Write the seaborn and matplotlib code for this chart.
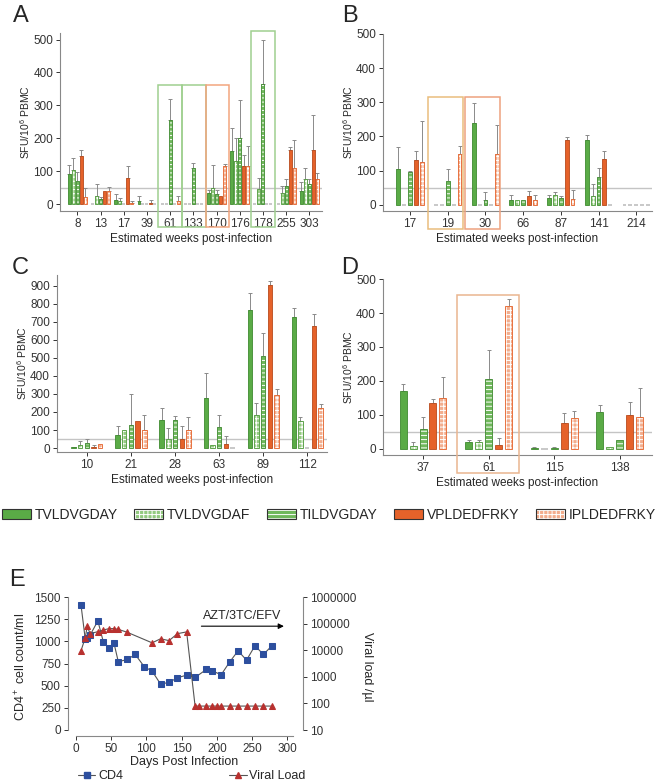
import numpy as np
import pandas as pd
import seaborn as sns
import matplotlib.pyplot as plt
from matplotlib.patches import Patch, Rectangle
from matplotlib.lines import Line2D
from matplotlib.colors import to_rgba

peptides = ["TVLDVGDAY", "TVLDVGDAF", "TILDVGDAY", "VPLDEDFRKY", "IPLDEDFRKY"]

# panel A (rows = weeks, columns = peptides)
weeks_a = ["8", "13", "17", "39", "61", "133", "170", "176", "178", "255", "303"]
mean_a = [[90, 105, 70, 145, 20], [0, 25, 15, 40, 40], [13, 8, 0, 80, 4],
          [10, 0, 0, 4, 0], [0, 0, 255, 0, 10], [0, 0, 110, 0, 0],
          [35, 50, 30, 25, 115], [160, 130, 200, 115, 115], [0, 45, 365, 0, 0],
          [0, 35, 55, 165, 110], [40, 75, 60, 165, 75]]
top_a = [[120, 140, 98, 165, 48], [0, 60, 22, 40, 52], [30, 18, 0, 117, 8],
         [24, 0, 0, 12, 0], [0, 0, 320, 0, 24], [0, 0, 125, 0, 0],
         [42, 120, 42, 25, 122], [230, 200, 315, 150, 178], [0, 80, 500, 0, 0],
         [0, 55, 75, 172, 195], [68, 110, 75, 272, 95]]

# panel B
weeks_b = ["17", "19", "30", "66", "87", "141", "214"]
mean_b = [[105, 0, 95, 130, 125], [0, 0, 70, 0, 150], [240, 0, 15, 0, 150],
          [15, 15, 15, 25, 13], [20, 30, 20, 190, 17], [190, 25, 80, 135, 0],
          [0, 0, 0, 0, 0]]
top_b = [[168, 0, 100, 158, 245], [0, 0, 105, 0, 172], [297, 0, 37, 0, 235],
         [28, 15, 15, 40, 30], [28, 37, 27, 197, 42], [203, 60, 108, 157, 0],
         [0, 0, 0, 0, 0]]

# panel C
weeks_c = ["10", "21", "28", "63", "89", "112"]
mean_c = [[3, 18, 30, 8, 25], [70, 100, 130, 150, 100], [155, 50, 155, 50, 100],
          [275, 15, 115, 25, 0], [765, 185, 510, 905, 295], [730, 150, 0, 680, 220]]
top_c = [[5, 40, 50, 18, 25], [125, 100, 300, 150, 185], [220, 110, 175, 120, 170],
         [415, 15, 185, 65, 0], [860, 250, 640, 930, 330], [780, 170, 0, 745, 242]]

# panel D
weeks_d = ["37", "61", "115", "138"]
mean_d = [[170, 10, 60, 135, 150], [20, 20, 205, 13, 420], [3, 0, 3, 75, 90],
          [110, 5, 25, 100, 95]]
top_d = [[192, 20, 95, 148, 213], [27, 27, 290, 32, 440], [6, 0, 6, 105, 112],
         [130, 5, 25, 137, 180]]

# panel E
days_cd4 = [7, 13, 16, 20, 31, 39, 47, 54, 60, 73, 84, 97, 108, 120, 132, 144, 157,
            169, 185, 193, 206, 218, 230, 242, 254, 266, 278]
cd4 = [1415, 1032, 1043, 1070, 1231, 987, 920, 976, 770, 796, 852, 713, 664, 518,
       537, 589, 619, 593, 683, 668, 623, 766, 893, 788, 950, 852, 950]
days_vl = [7, 13, 16, 20, 31, 39, 47, 54, 60, 73, 108, 120, 132, 144, 157, 169, 175,
           185, 193, 200, 206, 218, 230, 242, 254, 266, 278]
viral = [9400, 29000, 79000, 42000, 50000, 58000, 65000, 65000, 61000, 47000, 19000,
         27000, 23000, 42000, 49000, 80, 80, 80, 80, 80, 80, 80, 80, 80, 80, 80, 80]

sns.set_style("ticks")
plt.rcParams["font.family"] = ["Liberation Sans", "DejaVu Sans"]
plt.rcParams["mathtext.default"] = "regular"
plt.rcParams["hatch.linewidth"] = 0.7

GREEN = "#5aab46"
ORANGE = "#e5622a"
style = {
    "TVLDVGDAY": dict(face=GREEN, edge="#3f8a30", hatch=None),
    "TVLDVGDAF": dict(face="#93ca80", edge="#4f9a3b", hatch="++++"),
    "TILDVGDAY": dict(face="#6fb75b", edge="#3f8a30", hatch="----"),
    "VPLDEDFRKY": dict(face=ORANGE, edge="#b84a1c", hatch=None),
    "IPLDEDFRKY": dict(face="#f3ad8d", edge="#e5622a", hatch="++++"),
}


def white_hatch(p):
    if hasattr(p, "set_hatchcolor"):
        p.set_hatchcolor("white")
    else:
        p._hatch_color = to_rgba("white")


def bar_panel(ax, weeks, means, tops, width, gap, ylim, yticks, xlim):
    rows = []
    for w, m, t in zip(weeks, means, tops):
        for pep, v, e in zip(peptides, m, t):
            rows.append({"week": w, "peptide": pep, "sfu": v, "top": e})
    df = pd.DataFrame(rows)
    sns.barplot(data=df, x="week", y="sfu", hue="peptide", order=weeks,
                hue_order=peptides, palette=[style[p]["face"] for p in peptides],
                errorbar=None, width=width, gap=gap, saturation=1, legend=False,
                ax=ax, zorder=2)
    for pep, cont in zip(peptides, ax.containers):
        sub = df[df.peptide == pep]
        st = style[pep]
        xs, ys, es = [], [], []
        for p, v, t in zip(cont.patches, sub.sfu, sub.top):
            if v == 0:
                p.set_edgecolor("#c4c4c4")
                p.set_linewidth(1.3)
                continue
            p.set_edgecolor(st["edge"])
            p.set_linewidth(0.6)
            if st["hatch"]:
                p.set_hatch(st["hatch"])
                white_hatch(p)
            if t > v:
                xs.append(p.get_x() + p.get_width() / 2)
                ys.append(v)
                es.append(t - v)
        if xs:
            ax.errorbar(xs, ys, yerr=[np.zeros(len(es)), es], fmt="none",
                        ecolor="#8a8a8a", elinewidth=0.7, capsize=1.2,
                        capthick=0.7, zorder=1)
    ax.axhline(50, color="#c4c4c4", lw=1, zorder=0)
    ax.set_ylim(*ylim)
    ax.set_xlim(*xlim)
    ax.set_yticks(yticks)
    ax.set_xlabel("Estimated weeks post-infection", fontsize=8.5, labelpad=2)
    ax.set_ylabel("SFU/10$^6$ PBMC", fontsize=7.5, labelpad=1)
    ax.tick_params(labelsize=8.5, length=3, width=0.7, colors="#333333", pad=2)
    sns.despine(ax=ax)
    for s in ("left", "bottom"):
        ax.spines[s].set_color("#888888")
        ax.spines[s].set_linewidth(0.8)


def box(ax, i, color, top, bottom=-0.1, x0=-0.5, w=0.98):
    ax.add_patch(Rectangle((i + x0, bottom), w, top - bottom,
                           transform=ax.get_xaxis_transform(), fill=False,
                           edgecolor=color, lw=1.1, clip_on=False, zorder=3))


fig = plt.figure(figsize=(6.61, 7.84), dpi=100)

axA = fig.add_axes([0.0908, 0.7309, 0.3964, 0.2270])
bar_panel(axA, weeks_a, mean_a, top_a, 0.86, 0.25, (-21, 520), range(0, 501, 100),
          (-0.75, 10.55))
box(axA, 4, "#9fd08f", 0.708, -0.09, -0.53, 1.02)
box(axA, 5, "#9fd08f", 0.708, -0.09, -0.49, 1.02)
box(axA, 6, "#f2a57f", 0.708, -0.09, -0.47, 1.02)
box(axA, 8, "#9fd08f", 1.013, -0.09, -0.5, 1.02)

axB = fig.add_axes([0.5794, 0.7309, 0.4070, 0.2258])
bar_panel(axB, weeks_b, mean_b, top_b, 0.78, 0.35, (-18, 500), range(0, 501, 100),
          (-0.72, 6.42))
box(axB, 1, "#e9bd7d", 0.644, -0.10, -0.52, 0.93)
box(axB, 2, "#eea27f", 0.644, -0.10, -0.54, 0.93)

axC = fig.add_axes([0.0862, 0.4235, 0.4085, 0.2258])
bar_panel(axC, weeks_c, mean_c, top_c, 0.76, 0.35, (-22, 961), range(0, 901, 100),
          (-0.68, 5.45))

axD = fig.add_axes([0.5794, 0.4196, 0.4070, 0.2245])
bar_panel(axD, weeks_d, mean_d, top_d, 0.76, 0.3, (-18, 500), range(0, 501, 100),
          (-0.61, 3.49))
box(axD, 1, "#eab58f", 0.91, -0.10, -0.48, 0.94)

for letter, x, y in [("A", 21, 16), ("B", 350, 16), ("C", 20, 268), ("D", 350, 268),
                     ("E", 17, 580)]:
    fig.text(x / 661, 1 - y / 784, letter, fontsize=17, ha="center", va="center")

# peptide legend
handles = []
for pep in peptides:
    st = style[pep]
    h = Patch(facecolor=st["face"], edgecolor="#333333", hatch=st["hatch"], lw=0.8,
              label=pep)
    handles.append(h)
leg = fig.legend(handles=handles, loc="center", ncol=5, frameon=False,
                 bbox_to_anchor=(0.497, 1 - 515 / 784), fontsize=10,
                 handlelength=2.1, handleheight=0.7, handletextpad=0.25,
                 columnspacing=1.2, borderpad=0)
for p, pep in zip(leg.get_patches(), peptides):
    if style[pep]["hatch"]:
        white_hatch(p)

# panel E
axE = fig.add_axes([0.1150, 0.0612, 0.3283, 0.1773])
line_grey = "#555555"
sns.lineplot(x=days_cd4, y=cd4, ax=axE, color=line_grey, lw=0.8, marker="s",
             markersize=4, markerfacecolor="#2d4f9e", markeredgecolor="#2d4f9e",
             sort=False, estimator=None)
axE.set_xlim(0, 308)
axE.set_ylim(-68, 1500)
axE.set_yticks(range(0, 1501, 250))
axE.set_xticks(range(0, 301, 50))
axE.spines["left"].set_bounds(0, 1500)
axE.spines["left"].set_position(("outward", 6))
axE.spines["bottom"].set_bounds(0, 308)
axE.spines["top"].set_visible(False)
axE.spines["right"].set_visible(False)
axE.set_xlabel("Days Post Infection", fontsize=9, labelpad=1)
axE.set_ylabel("CD4$^+$ cell count/ml", fontsize=9)
axE.tick_params(labelsize=8.5, length=3, width=0.7, colors="#333333", pad=2)

axV = axE.twinx()
sns.lineplot(x=days_vl, y=viral, ax=axV, color=line_grey, lw=0.8, marker="^",
             markersize=4.5, markerfacecolor="#b8312f", markeredgecolor="#b8312f",
             sort=False, estimator=None)
axV.set_yscale("log")
axV.set_ylim(6, 1e6)
axV.set_yticks([10, 100, 1000, 10000, 100000, 1000000])
axV.set_yticklabels(["10", "100", "1000", "10000", "100000", "1000000"])
axV.minorticks_off()
axV.spines["right"].set_bounds(10, 1e6)
axV.spines["right"].set_position(("outward", 7))
for s in ("top", "left", "bottom"):
    axV.spines[s].set_visible(False)
axV.set_ylabel("Viral load /µl", fontsize=9, rotation=270, labelpad=12)
axV.tick_params(labelsize=8.5, length=3, width=0.7, colors="#333333", pad=2)
for ax in (axE, axV):
    for s in ax.spines.values():
        s.set_color("#888888")
        s.set_linewidth(0.8)

axE.annotate("", xy=(299, 1171), xytext=(174, 1171),
             arrowprops=dict(arrowstyle="-|>", color="black", lw=0.8,
                             mutation_scale=8))
axE.text(236, 1290, "AZT/3TC/EFV", ha="center", va="center", fontsize=9)

e_handles = [
    Line2D([], [], color=line_grey, lw=0.8, marker="s", markersize=4,
           markerfacecolor="#2d4f9e", markeredgecolor="#2d4f9e", label="CD4"),
    Line2D([], [], color=line_grey, lw=0.8, marker="^", markersize=4.5,
           markerfacecolor="#b8312f", markeredgecolor="#b8312f", label="Viral Load"),
]
fig.legend(handles=e_handles, loc="center", ncol=2, frameon=False,
           bbox_to_anchor=(0.29, 1 - 776 / 784), fontsize=9, handlelength=1.4,
           handletextpad=0.2, columnspacing=8.5, borderpad=0)

fig.savefig("out.png", dpi=100)
